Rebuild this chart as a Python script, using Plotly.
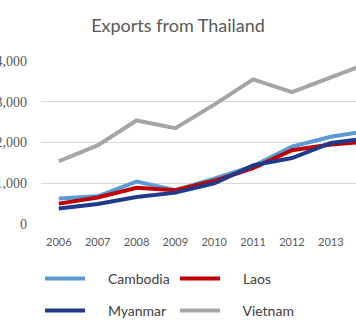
import plotly.graph_objects as go

years = [2006, 2007, 2008, 2009, 2010, 2011, 2012, 2013, 2014]
cambodia = [625, 680, 1040, 830, 1110, 1420, 1900, 2140, 2290]
laos = [500, 650, 890, 830, 1060, 1370, 1810, 1950, 2030]
myanmar = [380, 490, 660, 770, 1000, 1440, 1620, 1990, 2110]
vietnam = [1540, 1930, 2540, 2350, 2930, 3550, 3235, 3580, 3960]

series = [
    ("Cambodia", cambodia, "#5B9BD5", "legend"),
    ("Laos", laos, "#C00000", "legend"),
    ("Myanmar", myanmar, "#1F3A8A", "legend2"),
    ("Vietnam", vietnam, "#A5A5A5", "legend2"),
]

PAD = "\u00a0" * 5

fig = go.Figure()
for name, vals, color, leg in series:
    fig.add_trace(go.Scatter(
        x=years, y=vals, mode="lines", name=PAD + name,
        line=dict(color=color, width=4),
        legend=leg,
    ))

W, H = 356, 331
legfont = dict(family="Lato", size=14, color="#404040")
legcommon = dict(orientation="h", x=40 / W, xref="container", xanchor="left",
                 yref="container", yanchor="middle",
                 itemwidth=40, entrywidth=80, entrywidthmode="pixels",
                 font=legfont, bgcolor="rgba(0,0,0,0)")
fig.update_layout(
    width=W, height=H,
    margin=dict(l=41, r=0, t=61, b=107),
    paper_bgcolor="white", plot_bgcolor="white",
    title=dict(text="Exports from Thailand", x=0.5, xref="container", xanchor="center",
               y=1 - 26 / H, yref="container", yanchor="middle",
               font=dict(family="Lato", size=18, color="#595959")),
    xaxis=dict(range=[2005.542, 2013.648], tickvals=years[:8], showgrid=False,
               zeroline=False, showline=False, ticks="",
               tickfont=dict(family="Lato", size=11, color="#595959"),
               ticklabelstandoff=10),
    yaxis=dict(range=[0, 4000], tickvals=[0, 1000, 2000, 3000, 4000], tickformat=",",
               showgrid=True, gridcolor="#D9D9D9", gridwidth=1, zeroline=False,
               showline=False, ticks="", automargin=False,
               tickfont=dict(family="Liberation Serif", size=14, color="#595959"),
               ticklabelstandoff=13),
    legend=dict(legcommon, y=1 - 279 / H),
    legend2=dict(legcommon, y=1 - 311 / H),
    showlegend=True,
)
fig.write_html("out.html")
